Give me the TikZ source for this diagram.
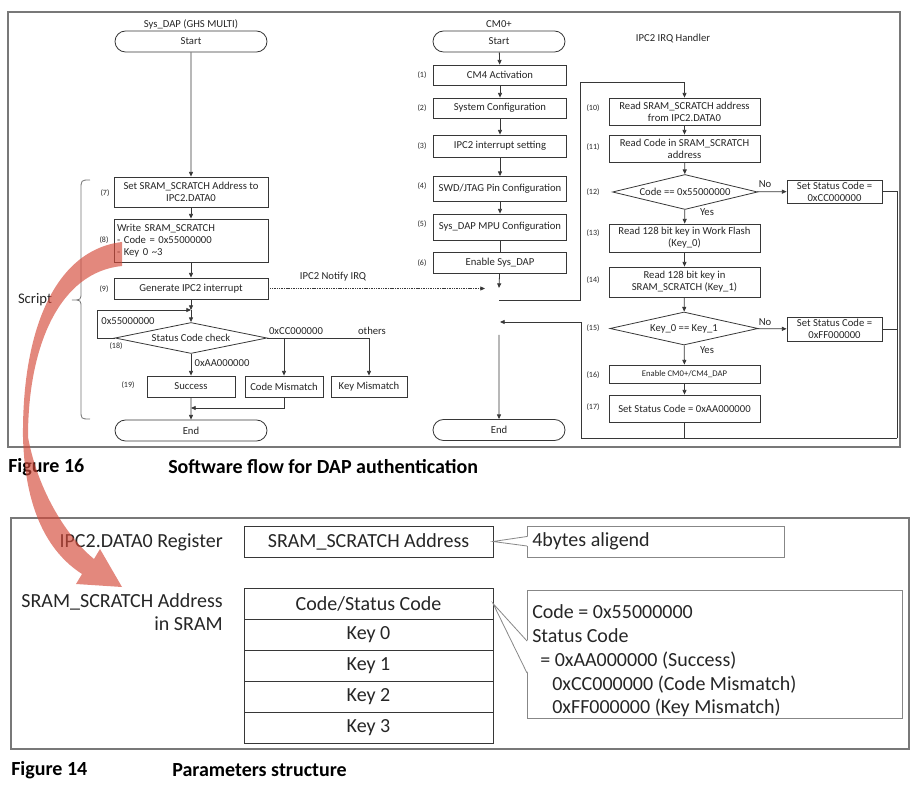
\documentclass[tikz,border=0pt]{standalone}
\usepackage{fontspec}
\setmainfont{Carlito}
\usetikzlibrary{shapes.geometric,shapes.misc,arrows.meta,positioning}

\definecolor{linegray}{RGB}{55,55,55}
\definecolor{framegray}{RGB}{120,120,120}
\definecolor{notegray}{RGB}{135,135,135}
\definecolor{arrowred}{RGB}{212,72,56}

\begin{document}
\begin{tikzpicture}[x=0.75pt, y=-0.75pt,
    flow/.style={draw=linegray, line width=0.6pt},
    term/.style={flow, rounded rectangle, minimum width=#1, minimum height=15.75pt,
        inner sep=0pt, text=black!85, font=\fontsize{8}{9}\selectfont},
    proc/.style={flow, rectangle, minimum width=#1, inner xsep=1pt, inner ysep=0pt,
        align=center, text=black!85, font=\fontsize{8}{9}\selectfont},
    cond/.style={flow, diamond, inner sep=0pt, text=black!85, font=\fontsize{8}{9}\selectfont},
    numtag/.style={inner sep=0pt, text=black!85, font=\fontsize{6}{7}\selectfont},
    lbl/.style={inner sep=0pt, text=black!85, font=\fontsize{8}{9}\selectfont},
    arr/.style={flow, -{Triangle[length=3.5pt, width=3pt]}},
    big/.style={inner sep=0pt, text=black!85, font=\fontsize{15}{17.8}\selectfont},
    cell/.style={draw=linegray, line width=0.6pt, minimum width=186.75pt,
        minimum height=23.25pt, outer sep=0pt, big},
    note/.style={draw=notegray, line width=0.6pt, inner sep=0pt},
    figcap/.style={inner sep=0pt, anchor=west, font=\fontsize{15}{17}\bfseries\selectfont}]

\useasboundingbox (0,0) rectangle (914,787);

% Frames
\draw[framegray, line width=1.1pt] (8,12) rectangle (900,447);
\draw[framegray, line width=1.1pt] (11,518) rectangle (909,749);

% Nodes with manual coordinates: Sys_DAP side
\node[lbl] (syslbl) at (191,24) {Sys\_DAP (GHS MULTI)};
\node[term=114pt] (sstart) at (191,41.5) {Start};
\node[proc=115.5pt, minimum height=22.5pt] (s7) at (191,192) {Set SRAM\_SCRATCH Address to\\IPC2.DATA0};
\node[proc=115.5pt, minimum height=32.25pt, text width=111pt, align=left] (s8) at (191,240.5) {Write SRAM\_SCRATCH\\{}- Code = 0x55000000\\{}- Key 0 \textasciitilde3};
\node[proc=115.5pt, minimum height=15.75pt] (s9) at (191,288.5) {Generate IPC2 interrupt};
\node[cond, aspect=4.9, minimum width=114pt, minimum height=23.25pt] (s18) at (191,338) {Status Code check};
\node[proc=66pt, minimum height=15.75pt] (s19) at (191,386.5) {Success};
\node[proc=58.5pt, minimum height=15.75pt] (scm) at (284,386.5) {Code Mismatch};
\node[proc=57pt, minimum height=15.75pt] (skm) at (369,386.5) {Key Mismatch};
\node[term=114pt] (send) at (191,430.5) {End};
\coordinate (sloop) at (191,310);
\coordinate (sjoin) at (191,408);

\node[numtag] (t7) at (105,193) {(7)};
\node[numtag] (t8) at (104,240) {(8)};
\node[numtag] (t9) at (104,289) {(9)};
\node[numtag] (t18) at (116,346) {(18)};
\node[numtag] (t19) at (128,385) {(19)};

\node[lbl] (l55) at (128,321) {0x55000000};
\node[lbl] (lcc) at (296,331) {0xCC000000};
\node[lbl] (loth) at (372,331) {others};
\node[lbl] (laa) at (222,363) {0xAA000000};

% Script brace
\node[inner sep=0pt, text=black!85, font=\fontsize{11}{13}\selectfont] (script) at (35,300) {Script};
\draw[black!55, line width=0.6pt] (90,180) .. controls (81,180) .. (81,190) -- (81,292)
    .. controls (81,300) .. (72,300) .. controls (81,300) .. (81,308) -- (81,410)
    .. controls (81,419) .. (90,419);

% Nodes with manual coordinates: CM0+ side
\node[lbl] (cmlbl) at (499,24) {CM0+};
\node[term=99pt] (mstart) at (499,41.5) {Start};
\node[proc=99.75pt, minimum height=15pt] (m1) at (500,75) {CM4 Activation};
\node[proc=99.75pt, minimum height=15pt] (m2) at (500,108) {System Configuration};
\node[proc=99.75pt, minimum height=16.5pt] (m3) at (500,146) {IPC2 interrupt setting};
\node[proc=99.75pt, minimum height=18.75pt] (m4) at (500,189) {SWD/JTAG Pin Configuration};
\node[proc=99.75pt, minimum height=19.5pt] (m5) at (500,227) {Sys\_DAP MPU Configuration};
\node[proc=99.75pt, minimum height=15.75pt] (m6) at (500,262.5) {Enable Sys\_DAP};
\node[term=99pt] (mend) at (499,430) {End};
\coordinate (mirq) at (499,288);
\coordinate (mnotify) at (485,288.5);
\coordinate (mout) at (499,300);
\coordinate (mback) at (500,322);
\coordinate (mresume) at (499,335);

\node[numtag] (t1) at (422,75) {(1)};
\node[numtag] (t2) at (422,108) {(2)};
\node[numtag] (t3) at (422,146) {(3)};
\node[numtag] (t4) at (422,186) {(4)};
\node[numtag] (t5) at (422,224) {(5)};
\node[numtag] (t6) at (422,263) {(6)};
\node[lbl] (lirq) at (333,277) {IPC2 Notify IRQ};

% Nodes with manual coordinates: IRQ handler
\node[lbl] (hlbl) at (673,39) {IPC2 IRQ Handler};
\node[proc=113.25pt, minimum height=20.25pt] (r10) at (684.5,111.5) {Read SRAM\_SCRATCH address\\from IPC2.DATA0};
\node[proc=113.25pt, minimum height=20.25pt] (r11) at (684.5,148.5) {Read Code in SRAM\_SCRATCH\\address};
\node[cond, aspect=4.1, minimum width=108.75pt, minimum height=26.25pt] (r12) at (685,192) {Code == 0x55000000};
\node[proc=71.25pt, minimum height=17.25pt] (rcc) at (834.5,191.5) {Set Status Code =\\0xCC000000};
\node[proc=113.25pt, minimum height=21pt] (r13) at (684.5,238) {Read 128 bit key in Work Flash\\(Key\_0)};
\node[proc=113.25pt, minimum height=22.5pt] (r14) at (684.5,282) {Read 128 bit key in\\SRAM\_SCRATCH (Key\_1)};
\node[cond, aspect=4.5, minimum width=111pt, minimum height=24.75pt] (r15) at (684,328.5) {Key\_0 == Key\_1};
\node[proc=71.25pt, minimum height=18pt] (rff) at (834.5,329) {Set Status Code =\\0xFF000000};
\node[proc=113.25pt, minimum height=13.5pt, font=\fontsize{6.5}{8}\selectfont] (r16) at (684.5,374) {Enable CM0+/CM4\_DAP};
\node[proc=113.25pt, minimum height=20.25pt] (r17) at (684.5,408.5) {Set Status Code = 0xAA000000};
\coordinate (rtop) at (580,82);
\coordinate (rbot) at (897,438);

\node[numtag] (t10) at (593,108) {(10)};
\node[numtag] (t11) at (593,147) {(11)};
\node[numtag] (t12) at (593,192) {(12)};
\node[numtag] (t13) at (593,233) {(13)};
\node[numtag] (t14) at (593,280) {(14)};
\node[numtag] (t15) at (593,328) {(15)};
\node[numtag] (t16) at (593,375) {(16)};
\node[numtag] (t17) at (593,407) {(17)};
\node[lbl] (no1) at (765,184) {No};
\node[lbl] (yes1) at (707,212) {Yes};
\node[lbl] (no2) at (765,322) {No};
\node[lbl] (yes2) at (707,350) {Yes};

% Edges: Sys_DAP side
\draw[arr] (sstart) -- (s7);
\draw[arr] (s7) -- (s8);
\draw[arr] (s8) -- (s9);
\draw[arr] (s9) -- (sloop);
\draw[arr] (sloop) -- (s18);
\draw[arr] (s18.west) -- ++(-17,0) |- (sloop);
\draw[arr] (s18.east) -| (skm);
\draw[arr] (s18.east -| scm.north) -- (scm);
\draw[arr] (s18) -- (s19);
\draw[arr] (s19) -- (send);
\draw[arr] (scm.south) |- (sjoin);
\draw[arr, dash pattern=on 0.8pt off 0.5pt] (s9.east) -- (mnotify);

% Edges: CM0+ side
\draw[arr] (mstart) -- (m1);
\draw[arr] (m1) -- (m2);
\draw[arr] (m2) -- (m3);
\draw[arr] (m3) -- (m4);
\draw[arr] (m4) -- (m5);
\draw[flow] (m5) -- (m6);
\draw[arr] (m6) -- (mirq);
\draw[arr] (mout) -| (rtop) -| (r10);
\draw[arr] (mresume) -- (mend);

% Edges: IRQ handler
\draw[arr] (r10) -- (r11);
\draw[arr] (r11) -- (r12);
\draw[arr] (r12) -- (rcc);
\draw[arr] (r12) -- (r13);
\draw[arr] (r13) -- (r14);
\draw[arr] (r14) -- (r15);
\draw[arr] (r15) -- (rff);
\draw[arr] (r15) -- (r16);
\draw[arr] (r16) -- (r17);
\draw[flow] (rcc.east) -| (rbot);
\draw[flow] (rff.east) -- (rff.east -| rbot);
\draw[flow] (r17.south) -- (r17.south |- rbot);
\draw[arr] (rbot) -- (581,438) |- (mback);

% Captions
\node[figcap] (fig16) at (8,467) {Figure 16};
\node[figcap] (fig16t) at (168,467) {Software flow for DAP authentication};
\node[figcap] (fig14) at (11,770) {Figure 14};
\node[figcap] (fig14t) at (172,770) {Parameters structure};

% Parameters structure
\node[big, anchor=east] (reglbl) at (223,542) {IPC2.DATA0 Register};
\node[cell] (regbox) at (368.5,541.5) {SRAM\_SCRATCH Address};
\node[note, anchor=north west, minimum width=192.75pt, minimum height=23.25pt] (alignbox) at (527,526) {};
\node[big, anchor=west] (aligntxt) at (532,541.5) {4bytes aligend};
\fill[white] (528,536.5) -- (regbox.east) -- (528,546) -- cycle;
\draw[notegray, line width=0.6pt] (527,536.5) -- (regbox.east) -- (527,546);

\node[big, anchor=east, align=right] (sramlbl) at (223,612) {SRAM\_SCRATCH Address\\in SRAM};
\node[cell, anchor=north] (c0) at (368.5,588) {Code/Status Code};
\node[cell, below=0pt of c0] (c1) {Key 0};
\node[cell, below=0pt of c1] (c2) {Key 1};
\node[cell, below=0pt of c2] (c3) {Key 2};
\node[cell, below=0pt of c3] (c4) {Key 3};

\node[note, anchor=north west, minimum width=281.25pt, minimum height=96pt] (codebox) at (527,590) {};
\node[big, anchor=west, align=left] (codetxt) at (532,661) {Code = 0x55000000\\Status Code\\\hspace*{6pt}= 0xAA000000 (Success)\\\hspace*{15pt}0xCC000000 (Code Mismatch)\\\hspace*{15pt}0xFF000000 (Key Mismatch)};
\fill[white] (528,641) -- (c0.east) -- (528,673) -- cycle;
\draw[notegray, line width=0.6pt] (527,641) -- (c0.east) -- (527,673);

% Red pointer from step (8) to the SRAM area
\fill[arrowred, fill opacity=0.65] (122,242) .. controls (55,250) and (22,330) .. (23,437)
    .. controls (25,510) and (48,552) .. (82,574) -- (76,584) -- (122,587) -- (100,549)
    -- (94,559) .. controls (68,538) and (38,492) .. (28,437)
    .. controls (28,345) and (60,272) .. (122,266) -- cycle;
\end{tikzpicture}
\end{document}
